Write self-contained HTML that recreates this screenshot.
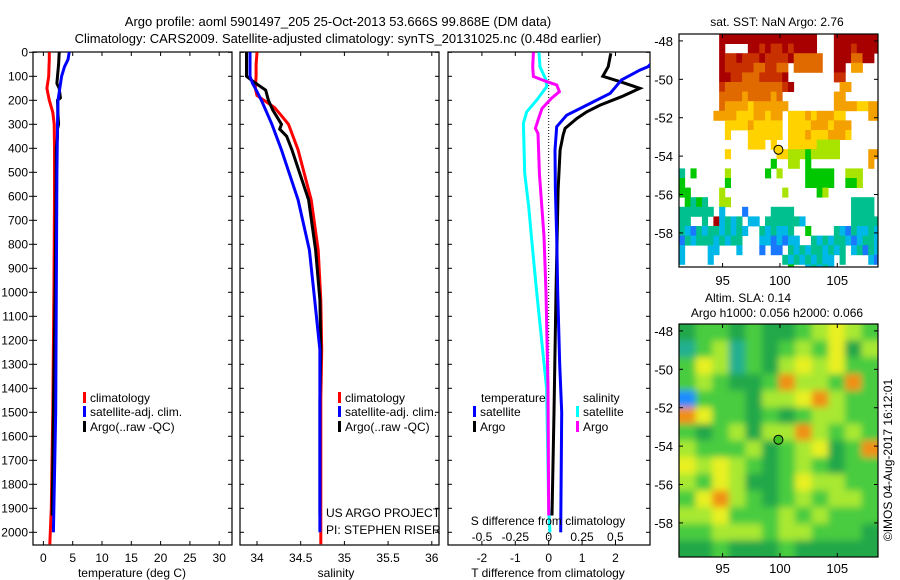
<!DOCTYPE html>
<html><head><meta charset="utf-8"><style>
html,body{margin:0;padding:0;background:#fff}
svg{display:block;font-family:"Liberation Sans",sans-serif}
</style></head><body>
<svg id="s" width="900" height="580" viewBox="0 0 900 580" xmlns="http://www.w3.org/2000/svg">
<defs>
<clipPath id="c1"><rect x="33" y="52" width="199" height="493"/></clipPath>
<clipPath id="c2"><rect x="240" y="52" width="199" height="493"/></clipPath>
<clipPath id="c3"><rect x="448" y="52" width="202" height="493"/></clipPath>
<clipPath id="cm1"><rect x="679" y="34" width="199" height="233"/></clipPath>
<clipPath id="cm2"><rect x="679" y="324" width="199" height="233"/></clipPath>
<filter id="blur" x="-10%" y="-10%" width="120%" height="120%"><feGaussianBlur stdDeviation="3.5"/></filter>
</defs>
<text x="338" y="26" font-size="13" text-anchor="middle">Argo profile: aoml 5901497_205 25-Oct-2013 53.666S 99.868E (DM data)</text>
<text x="338" y="43" font-size="13" text-anchor="middle">Climatology: CARS2009. Satellite-adjusted climatology: synTS_20131025.nc (0.48d earlier)</text>
<g id="g"></g>
</svg>
<script>
// ---- data ----
const tDepth=[0,30,60,100,150,200,250,300,400,600,1000,1500,1900,2050];
const tClim=[1.0,1.0,0.95,0.9,0.6,1.0,1.6,1.85,1.9,1.9,1.8,1.6,1.35,1.1];
const satDepth=[0,30,60,100,150,200,300,500,1000,1500,2000];
const tSat=[4.4,4.2,3.6,3.1,2.8,2.5,2.4,2.3,2.2,2.1,1.7];
const argoDepth=[0,50,100,130,150,190,200,260,300,320,350,400,600,1000,1500,1930];
const tArgo=[2.7,2.6,2.4,2.3,2.7,2.9,2.4,2.5,2.6,2.4,2.4,2.2,2.15,2.0,1.7,1.5];
const sClimDepth=[0,50,100,150,180,200,230,260,300,407,615,824,1032,1240,1450,2050];
const sClim=[34.0,33.99,33.99,33.98,34.0,34.08,34.2,34.27,34.36,34.47,34.62,34.70,34.73,34.74,34.73,34.73];
const sSatDepth=[0,100,130,150,200,300,407,615,824,1032,1240,1450,2000];
const sSat=[33.92,33.92,33.95,33.98,34.05,34.17,34.28,34.47,34.60,34.66,34.72,34.72,34.72];
const sArgoDepth=[0,100,120,158,200,240,300,320,350,407,615,824,1032,1240,1450,1930];
const sArgo=[33.88,33.88,33.95,34.1,34.13,34.18,34.28,34.26,34.34,34.40,34.59,34.67,34.72,34.73,34.72,34.72];
const dDepthArgo=[4,60,100,122,150,185,220,248,276,317,345,407,574,1000,1500,1930];
const dTArgo=[1.86,1.78,1.62,2.13,2.73,2.18,1.54,1.14,0.84,0.49,0.43,0.34,0.28,0.22,0.16,0.1];
const dDepthSat=[0,30,60,74,115,171,220,262,310,407,574,768,1000,1300,1500,2000];
const dTSat=[3.4,3.2,2.97,2.73,2.18,1.84,1.14,0.54,0.24,0.19,0.2,0.24,0.27,0.33,0.39,0.36];
const dSDepthSat=[0,60,115,143,199,248,296,504,643,768,1000,1400,1900,2000];
const dSSat=[-0.073,-0.065,-0.02,-0.015,-0.09,-0.165,-0.19,-0.18,-0.15,-0.13,-0.09,-0.016,0.0,0.01];
const dSDepthArgo=[0,60,101,122,136,164,192,234,283,317,338,504,768,1000,1400,1930];
const dSArgo=[-0.115,-0.12,-0.115,-0.015,0.06,0.08,0.02,-0.05,-0.08,-0.1,-0.08,-0.07,-0.035,-0.02,-0.005,0.0];
const depthTicks=[0,100,200,300,400,500,600,700,800,900,1000,1100,1200,1300,1400,1500,1600,1700,1800,1900,2000];
const tTicks=[0,5,10,15,20,25,30];
const sTicks=[34,34.5,35,35.5,36];
const sTickLabels=["34","34.5","35","35.5","36"];
const dTTicks=[-2,-1,0,1,2];
const dSTicks=[-0.5,-0.25,0,0.25,0.5];
const dSTickLabels=["-0.5","-0.25","0","0.25","0.5"];
const latTicks=[-48,-50,-52,-54,-56,-58];
const lonTicks=[95,100,105];
const floatLon=99.868, floatLat=-53.666;
const sstRows=[
".......RRRRRRRRRRRRRRRRR...RRRRRRRR",
".......R....RRrRrrRrRRRR...RRRrRRRR",
".......RrrRrrrRrrrrRooooo..RRRooRR.",
".......Rrrrrroorroo.ooooo..RR.OO...",
".......RRrrooorrrrR........rr......",
".......roooooooooorR........OO......".slice(0,35),
".......ooooOooooOo.........OO......",
".......oOOOOyOOOOOO........OOOOyyOO",
"......OOOOyyyOOyOO.yyyOyOOOyy....OO",
"........yyyyOyyyyy.yyyyOOOyOOO.....",
"........y...yyyyyy.yyyOyyyOOOy.....",
"............yyy.y..yyyyygggg.......",
"........y........yygggGggggg.....OO",
"................G..gg.G..........O.",
"c.G.....g......G.g....GGGGG..ggg...",
"G.......G.............GGGGG..GGg...",
"GG.....g..........g.....Gg.........",
".GcGc..gg.....................cccc.",
"cccccc.b...B....cccc..........cccc.",
"cc..c.Rbcbc.bb.ccccccb........ccccc",
"cbBcbccbcbcb..cbcbbc..G....cbBcbbcb",
"Bcbcccbcbcc...bbBbBbb..cbcbccbBbccb",
"b....bb...b...B.BB.cbcbccbcbc.bcBcb",
"b....b............cbcbcbcbb.c....bB",
"...................G..bcbcb........"];
const sstColors={R:"#a80000",r:"#c83000",o:"#e06a00",O:"#f4a000",y:"#ffd200",g:"#a8e400",G:"#00c800",c:"#00c090",b:"#00b8e8",B:"#1a78ff"};
const slaGrid=[
[2,3,3,2,3,2,2,3,4,5,4,3],
[1,3,4,1,3,2,3,4,3,5,2,4],
[3,5,4,1,3,2,4,5,4,5,3,3],
[3,4,3,2,2,3,6,4,4,3,6,3],
[0,3,3,3,2,4,4,5,6,4,3,3],
[6,5,3,3,2,3,2,3,4,4,3,3],
[3,2,3,4,2,4,4,6,4,3,4,3],
[4,3,3,3,4,2,3,4,5,2,3,6],
[5,4,5,4,3,2,3,4,3,2,3,3],
[4,3,5,4,2,2,3,5,4,4,3,3],
[3,5,6,4,3,2,3,4,3,4,4,3],
[4,4,5,3,3,3,4,3,4,3,3,3],
[3,3,4,4,4,3,4,4,3,3,3,2],
[2,2,3,2,2,2,3,2,2,2,2,2]];
const slaColors=["#1a8cff","#20b090","#20a848","#48cc40","#a8e830","#e8f020","#f09018"];

// ---- scales ----
const NS="http://www.w3.org/2000/svg";
const G=document.getElementById('g');
const yD=d=>52.3+d*0.24;
const xT=t=>43.4+t*5.86;
const xS=s=>257+(s-34)*87.4;
const xDT=v=>548.7+v*33.4;
const xDS=v=>548.7+v*133.4;
const mx=lon=>679+(lon-91.2)*11.47;
const my1=lat=>34+(-47.64-lat)*19.2;
const my2=lat=>324+(-47.64-lat)*19.2;
function el(tag,attrs,parent){const e=document.createElementNS(NS,tag);for(const k in attrs)e.setAttribute(k,attrs[k]);(parent||G).appendChild(e);return e;}
function txt(x,y,s,anchor,size,parent){const t=el('text',{x:x,y:y,'font-size':size||12,'text-anchor':anchor||'middle'},parent);t.textContent=s;return t;}
function line(depths,vals,xf,color,clip,name){
  const pts=depths.map((d,i)=>xf(vals[i]).toFixed(1)+','+yD(d).toFixed(1)).join(' ');
  const p=el('polyline',{points:pts,fill:'none',stroke:color,'stroke-width':3,'clip-path':'url(#'+clip+')'});
  
  
}
// frames
const frames=[[33,232,'temperature-panel'],[240,439,'salinity-panel'],[448,650,'difference-panel']];
frames.forEach(f=>{const r=el('rect',{x:f[0],y:52,width:f[1]-f[0],height:493,fill:'none',stroke:'#000','stroke-width':1.2});


depthTicks.forEach(d=>{el('line',{x1:f[0],x2:f[0]+4,y1:yD(d),y2:yD(d),stroke:'#000'});el('line',{x1:f[1]-4,x2:f[1],y1:yD(d),y2:yD(d),stroke:'#000'});});});
depthTicks.forEach(d=>{el('line',{x1:29,x2:33,y1:yD(d),y2:yD(d),stroke:'#000'});const t=txt(28,yD(d)+4,String(d),'end');

});
tTicks.forEach(v=>{const x=xT(v);el('line',{x1:x,x2:x,y1:52,y2:56,stroke:'#000'});el('line',{x1:x,x2:x,y1:541,y2:545,stroke:'#000'});const t=txt(x,562,String(v));

});
sTicks.forEach((v,i)=>{const x=xS(v);el('line',{x1:x,x2:x,y1:52,y2:56,stroke:'#000'});el('line',{x1:x,x2:x,y1:541,y2:545,stroke:'#000'});const t=txt(x,562,sTickLabels[i]);

});
dTTicks.forEach(v=>{const x=xDT(v);el('line',{x1:x,x2:x,y1:52,y2:56,stroke:'#000'});el('line',{x1:x,x2:x,y1:541,y2:545,stroke:'#000'});const t=txt(x,562,String(v));

});
dSTicks.forEach((v,i)=>{const t=txt(xDS(v),541,dSTickLabels[i]);

});
// zero dotted line
el('line',{x1:548.7,x2:548.7,y1:52,y2:545,stroke:'#000','stroke-dasharray':'1,2'});
// series
line(tDepth,tClim,xT,'#ff0000','c1','temp-climatology-line');
line(argoDepth,tArgo,xT,'#000','c1','temp-argo-line');
line(satDepth,tSat,xT,'#0000ff','c1','temp-satellite-line');
line(sClimDepth,sClim,xS,'#ff0000','c2','sal-climatology-line');
line(sArgoDepth,sArgo,xS,'#000','c2','sal-argo-line');
line(sSatDepth,sSat,xS,'#0000ff','c2','sal-satellite-line');
line(dSDepthSat,dSSat,xDS,'#00ffff','c3','s-diff-satellite-line');
line(dSDepthArgo,dSArgo,xDS,'#ff00ff','c3','s-diff-argo-line');
line(dDepthArgo,dTArgo,xDT,'#000','c3','t-diff-argo-line');
line(dDepthSat,dTSat,xDT,'#0000ff','c3','t-diff-satellite-line');
// axis titles
[[132,'temperature (deg C)','temperature-axis-title'],[336,'salinity','salinity-axis-title'],[548,'T difference from climatology','t-diff-axis-title']].forEach(a=>{const t=txt(a[0],577,a[1]);

});
{const t=txt(548,525,'S difference from climatology');

}
// legends
function leg(x,y,color,label,name){const g=el('g',{});


el('rect',{x:x,y:y-6,width:3,height:11,fill:color},g);txt(x+7,y+4,label,'start',12,g);}
leg(83,398,'#ff0000','climatology','legend-climatology');
leg(83,412,'#0000ff','satellite-adj. clim.','legend-satellite-adj');
leg(83,427,'#000','Argo(..raw -QC)','legend-argo');
leg(338,398,'#ff0000','climatology','legend-sal-climatology');
leg(338,412,'#0000ff','satellite-adj. clim.','legend-sal-satellite-adj');
leg(338,427,'#000','Argo(..raw -QC)','legend-sal-argo');
{const t=txt(481,402,'temperature','start');}
{const t=txt(583,402,'salinity','start');}
leg(473,412,'#0000ff','satellite','legend-t-satellite');
leg(473,427,'#000','Argo','legend-t-argo');
leg(576,412,'#00ffff','satellite','legend-s-satellite');
leg(576,427,'#ff00ff','Argo','legend-s-argo');
{const t=txt(326,517,'US ARGO PROJECT','start');}
{const t=txt(326,534,'PI: STEPHEN RISER','start');}
// ---- maps ----
const cw=11.47*0.5, ch=19.2*0.5;
const gm1=el('g',{'clip-path':'url(#cm1)'});


sstRows.forEach((row,i)=>{for(let j=0;j<row.length;j++){const c=row[j];if(c==='.')continue;
el('rect',{x:(679+j*cw).toFixed(2),y:(34+i*ch).toFixed(2),width:cw+0.4,height:ch+0.4,fill:sstColors[c]},gm1);}});
const gm2o=el('g',{'clip-path':'url(#cm2)'});


const gm2=el('g',{filter:'url(#blur)'},gm2o);
const nr=slaGrid.length,nc=slaGrid[0].length,sw=199/nc,sh=233/nr;
slaGrid.forEach((row,i)=>row.forEach((v,j)=>{let x=679+j*sw,y=324+i*sh,w=sw+0.5,h=sh+0.5;
if(j===0){x-=15;w+=15;} if(j===nc-1){w+=15;} if(i===0){y-=15;h+=15;} if(i===nr-1){h+=15;}
el('rect',{x:x,y:y,width:w,height:h,fill:slaColors[v]},gm2);}));
[[my1,34,281,'sst'],[my2,324,569,'sla']].forEach(m=>{
  const yf=m[0],top=m[1];
  const fr=el('rect',{x:679,y:top,width:199,height:233,fill:'none',stroke:'#000','stroke-width':1.2});
  
  
  latTicks.forEach(l=>{const y=yf(l);el('line',{x1:679,x2:683,y1:y,y2:y,stroke:'#000'});el('line',{x1:874,x2:878,y1:y,y2:y,stroke:'#000'});
    const t=txt(673,y+5,String(l),'end',13);});
  lonTicks.forEach(l=>{const x=mx(l);el('line',{x1:x,x2:x,y1:top,y2:top+4,stroke:'#000'});el('line',{x1:x,x2:x,y1:top+229,y2:top+233,stroke:'#000'});
    const t=txt(x,m[2]+4,String(l),'middle',13);});
});
{const c=el('circle',{cx:mx(floatLon),cy:my1(floatLat),r:4.5,fill:'#ffd200',stroke:'#000','stroke-width':1});}
{const c=el('circle',{cx:mx(floatLon),cy:my2(floatLat),r:4.5,fill:'#40c020',stroke:'#000','stroke-width':1});}
{const t=txt(777,26,'sat. SST: NaN Argo: 2.76','middle',12);}
{const t=txt(748,302,'Altim. SLA: 0.14','middle',12);}
{const t=txt(777,317,'Argo h1000: 0.056 h2000: 0.066','middle',12);}
{const t=txt(0,0,'©IMOS 04-Aug-2017 16:12:01','middle',12);t.setAttribute('transform','translate(892,460) rotate(-90)');}
</script>
</body></html>
